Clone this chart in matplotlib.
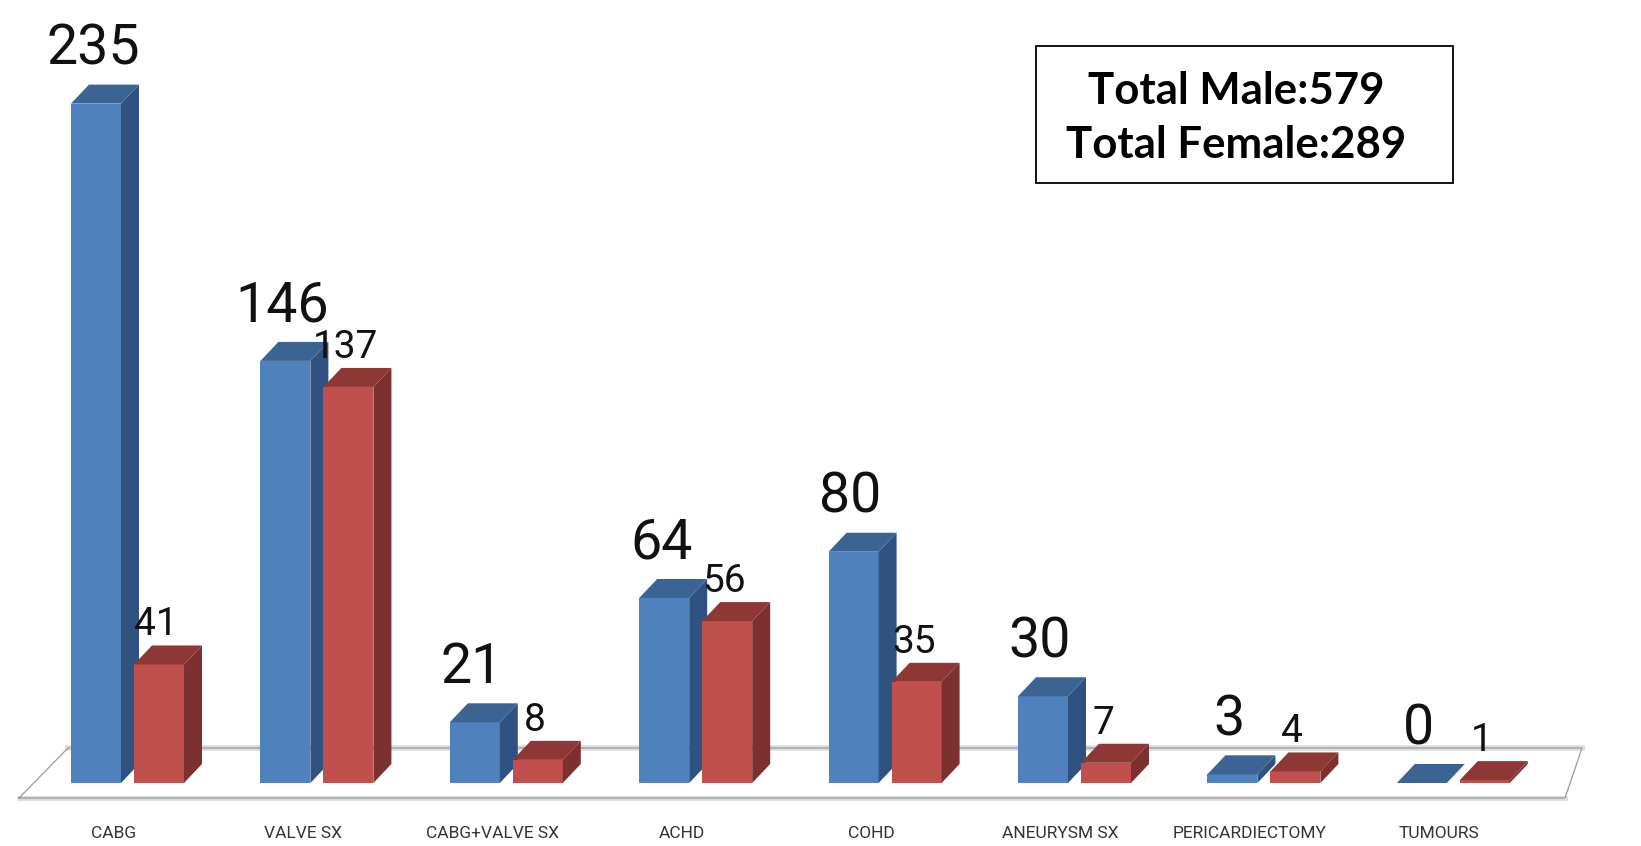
#!/usr/bin/env python
#
# Male / female surgery counts as a pseudo 3D column chart
#
import matplotlib
matplotlib.use('Agg')
import matplotlib.pyplot as plt

categories = ['CABG', 'VALVE SX', 'CABG+VALVE SX', 'ACHD', 'COHD',
              'ANEURYSM SX', 'PERICARDIECTOMY', 'TUMOURS']
male = [235, 146, 21, 64, 80, 30, 3, 0]
female = [41, 137, 8, 56, 35, 7, 4, 1]
summary = 'Total Male:579\nTotal Female:289'

NARROW = 'Roboto'

# size of one group and one value unit on the picture
PX_GROUP = 189.4
PX_VALUE = 2.891
DX = 18 / PX_GROUP
DY = 19 / PX_VALUE
BAR_W = 50 / PX_GROUP
BAR_OFF = 31.5 / PX_GROUP


def px_x(px):
    return (px - 127.5) / PX_GROUP


def px_y(px):
    return (783 - px) / PX_VALUE


def draw_bars(ax, values, offset, front, side, top):
    x = [i + offset for i in range(len(values))]
    ax.bar(x, values, BAR_W, color=front, linewidth=0, zorder=3)
    for xc, v in zip(x, values):
        l = xc - BAR_W / 2
        r = xc + BAR_W / 2
        ax.fill([r, r + DX, r + DX, r], [0, DY, v + DY, v], color=side, lw=0, zorder=3)
        ax.fill([l, r, r + DX, l + DX], [v, v, v + DY, v + DY], color=top, lw=0, zorder=3)


def draw_labels(ax, values, offset, shift_x, shift_y, size):
    for i, v in enumerate(values):
        ax.text(i + offset + shift_x / PX_GROUP, v + shift_y / PX_VALUE, str(v),
                ha='center', va='baseline', fontsize=size, family=NARROW,
                color='#111111', zorder=5)


def main():
    fig = plt.figure(figsize=(16.41, 8.46), dpi=100)
    ax = fig.add_axes([0, 0, 1, 1])
    ax.set_xlim(px_x(0), px_x(1641))
    ax.set_ylim(px_y(846), px_y(0))
    ax.axis('off')

    # floor of the 3D chart
    floor_x = [px_x(19), px_x(1565), px_x(1582), px_x(68), px_x(19)]
    floor_y = [px_y(798), px_y(798), px_y(748), px_y(748), px_y(798)]
    ax.plot(floor_x[2:4], floor_y[2:4], color='#dcdcdc', lw=4, zorder=1)
    ax.plot(floor_x[:2], floor_y[:2], color='#dcdcdc', lw=3.5, zorder=1)
    ax.plot(floor_x, floor_y, color='#9a9a9a', lw=0.9, zorder=2)

    draw_bars(ax, male, -BAR_OFF, '#4f81bd', '#2f5280', '#3b6493')
    draw_bars(ax, female, BAR_OFF, '#c0504d', '#7d3030', '#8e3735')

    draw_labels(ax, male, -BAR_OFF, -3, 39, 40)
    draw_labels(ax, female, BAR_OFF, -3, 29, 28)

    for i, name in enumerate(categories):
        ax.text(i - 14 / PX_GROUP, px_y(833), name, ha='center', va='center',
                fontsize=12.5, family=NARROW, color='#333333', zorder=5)

    ax.text(px_x(1236), px_y(118), summary, ha='center', va='center', fontsize=31.5,
            family='Lato', fontweight='bold', color='black', linespacing=1.45,
            zorder=6)
    ax.fill([px_x(1036), px_x(1453), px_x(1453), px_x(1036)],
            [px_y(46), px_y(46), px_y(183), px_y(183)],
            facecolor='white', edgecolor='black', lw=1.3, zorder=4)

    fig.savefig('out.png', dpi=100)


if __name__ == '__main__':
    main()
